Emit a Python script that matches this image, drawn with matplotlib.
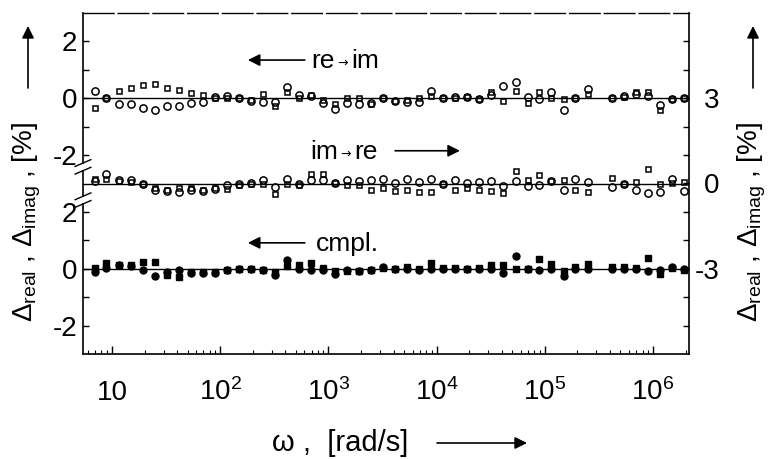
import matplotlib
matplotlib.use('Agg')
import matplotlib.pyplot as plt
import matplotlib.transforms as mtransforms
from matplotlib.ticker import FixedLocator, NullFormatter
import numpy as np

plt.rcParams['font.family'] = ['Liberation Sans', 'DejaVu Sans']
plt.rcParams['mathtext.fontset'] = 'custom'
plt.rcParams['mathtext.rm'] = 'Liberation Sans'
plt.rcParams['mathtext.it'] = 'Liberation Sans:italic'
plt.rcParams['mathtext.bf'] = 'Liberation Sans:bold'

# measurement frequencies [rad/s], 9 per decade (one point missing near 3e5)
omega = [6.9, 8.9, 11.5, 14.9, 19.2, 24.9, 32.1, 41.5, 53.6,
         69, 89, 115, 149, 192, 249, 321, 415, 536,
         690, 893, 1150, 1490, 1920, 2490, 3210, 4150, 5360,
         6920, 8930, 11500, 14900, 19200, 24900, 32100, 41500, 53600,
         69200, 89300, 115000, 149000, 192000, 249000, 415000, 536000,
         692000, 893000, 1150000, 1490000, 1920000]

# deviations in %, real part (circles) and imaginary part (squares)
re_im_real = [0.26, 0.0, -0.19, -0.19, -0.35, -0.42, -0.27, -0.27, -0.15,
              -0.12, 0.05, 0.07, 0.02, -0.09, -0.12, -0.12, 0.40, 0.12,
              0.08, -0.15, -0.38, -0.15, -0.19, -0.15, 0.02, -0.10, -0.12,
              -0.14, 0.26, 0.0, 0.05, 0.05, -0.02, 0.12, 0.44, 0.58,
              0.05, -0.02, 0.21, -0.41, 0.0, 0.33, 0.02, 0.09,
              0.14, 0.09, -0.23, -0.02, 0.02]
re_im_imag = [-0.33, 0.0, 0.26, 0.35, 0.47, 0.51, 0.37, 0.28, 0.20,
              0.12, 0.02, 0.0, 0.0, -0.07, 0.16, -0.27, 0.23, 0.02,
              0.12, -0.07, -0.19, 0.02, 0.0, -0.19, 0.02, -0.08, -0.06,
              0.02, 0.09, 0.0, 0.02, 0.05, -0.02, 0.21, -0.09, 0.26,
              -0.17, 0.21, 0.02, -0.02, 0.0, 0.14, 0.02, 0.06,
              0.23, 0.21, -0.41, -0.02, 0.0]

im_re_real = [0.10, 0.35, 0.12, 0.12, 0.0, -0.23, -0.26, -0.29, -0.23,
              -0.26, -0.21, -0.06, -0.02, 0.02, 0.12, -0.14, 0.17, 0.0,
              0.14, 0.14, 0.02, 0.14, 0.09, 0.14, 0.17, 0.03, 0.17,
              0.06, 0.15, -0.03, 0.12, 0.03, 0.06, 0.08, -0.08, 0.08,
              -0.08, -0.06, 0.08, -0.23, 0.17, 0.06, -0.12, 0.0,
              -0.23, -0.35, -0.31, 0.17, -0.27]
im_re_imag = [0.17, 0.17, 0.09, 0.06, 0.0, -0.17, -0.23, -0.17, -0.17,
              -0.23, -0.17, -0.21, -0.06, 0.0, 0.0, -0.37, 0.0, -0.06,
              0.35, 0.33, 0.02, -0.06, -0.06, -0.23, -0.17, -0.27, -0.23,
              -0.31, -0.29, -0.03, -0.23, -0.17, -0.23, -0.27, -0.35, 0.43,
              0.12, 0.29, 0.08, 0.12, -0.23, -0.29, 0.20, 0.0,
              0.06, 0.52, 0.0, 0.03, 0.06]

cmpl_real = [-0.12, 0.03, 0.12, 0.08, -0.06, -0.27, -0.12, -0.06, -0.15,
             -0.15, -0.15, -0.06, 0.0, 0.0, -0.03, -0.23, 0.31, 0.0,
             -0.03, -0.06, -0.17, -0.06, -0.08, -0.03, 0.06, -0.02, 0.0,
             -0.05, -0.02, 0.0, -0.02, 0.0, 0.0, -0.02, -0.16, 0.44,
             0.0, -0.05, 0.0, -0.26, 0.0, 0.0, 0.0, 0.0,
             0.0, -0.08, -0.05, 0.07, 0.0]
cmpl_imag = [0.03, 0.20, 0.12, 0.12, 0.23, 0.23, -0.23, -0.29, -0.12,
             -0.12, -0.12, -0.03, 0.0, 0.0, -0.03, -0.12, 0.08, 0.12,
             0.20, 0.03, -0.08, -0.08, -0.08, -0.03, 0.03, 0.0, 0.07,
             0.0, 0.19, 0.03, 0.03, 0.0, 0.03, 0.12, 0.12, 0.0,
             0.0, 0.33, 0.15, -0.08, 0.07, 0.15, 0.07, 0.07,
             0.03, 0.38, -0.20, 0.03, -0.05]

decades = [1e1, 1e2, 1e3, 1e4, 1e5, 1e6]
decade_labels = ['10', '$10^2$', '$10^3$', '$10^4$', '$10^5$', '$10^6$']

W, H = 773, 459
fig = plt.figure(figsize=(W / 100, H / 100), dpi=100)
ax = fig.add_axes([83 / W, 1 - 354 / H, 606 / W, 341 / H])
ax.set_xscale('log')
ax.set_xlim(5.4, 2.15e6)
ax.set_ylim(-6, 6)

# each comparison is shifted onto its own baseline
for off in (3, 0, -3):
    ax.axhline(off, color='black', lw=1.0, zorder=1)

open_kw = dict(ls='none', mfc='none', mec='black', mew=1.1, zorder=3)
ax.plot(omega, np.array(re_im_real) + 3, marker='o', ms=5.2, **open_kw)
ax.plot(omega, np.array(re_im_imag) + 3, marker='s', ms=3.6, **open_kw)
ax.plot(omega, np.array(im_re_real), marker='o', ms=5.2, **open_kw)
ax.plot(omega, np.array(im_re_imag), marker='s', ms=3.6, **open_kw)
ax.plot(omega, np.array(cmpl_real) - 3, 'o', ms=5.0, color='black', zorder=3)
ax.plot(omega, np.array(cmpl_imag) - 3, 's', ms=3.8, color='black', zorder=3)

# x axis
ax.set_xticks(decades)
ax.set_xticklabels([])
ax.xaxis.set_minor_formatter(NullFormatter())
ax.tick_params(axis='x', which='major', direction='in', length=6, width=1)
ax.tick_params(axis='x', which='minor', direction='in', length=3, width=0.8)
bt = mtransforms.blended_transform_factory(ax.transData, ax.transAxes)
for d, lab in zip(decades, decade_labels):
    ax.text(d, -0.135, lab, transform=bt, ha='center', va='baseline', fontsize=20)

# left axis: two scales joined by a break
ax.set_yticks([5, 3, 1, -1, -3, -5])
ax.set_yticklabels(['2', '0', '-2', '2', '0', '-2'], fontsize=20)
ax.yaxis.set_minor_locator(FixedLocator([4, 2, -2, -4]))
ax.tick_params(axis='y', which='both', direction='in', length=4, width=1, pad=4)

ax.spines['left'].set_visible(False)
ax.spines['right'].set_visible(False)
ax.spines['bottom'].set_linewidth(1.2)
ax.spines['top'].set_linewidth(1.0)
ax.spines['top'].set_linestyle((0, (22, 3)))
lt = mtransforms.blended_transform_factory(ax.transAxes, ax.transData)
for y0, y1 in [(6, 0.72), (0.45, -0.45), (-0.72, -6)]:
    ax.plot([0, 0], [y0, y1], color='black', lw=1.2, transform=lt, clip_on=False)
for yb in (0.72, 0.45, -0.45, -0.72):
    ax.plot([-0.013, 0.013], [yb - 0.12, yb + 0.12], color='black', lw=1.0,
            transform=lt, clip_on=False)

# right axis: one continuous scale
ax2 = ax.twinx()
ax2.set_ylim(-6, 6)
ax2.set_yticks([3, 0, -3])
ax2.set_yticklabels(['3', '0', '-3'], fontsize=20)
ax2.yaxis.set_minor_locator(FixedLocator([5, 4, 2, 1, -1, -2, -4, -5]))
ax2.tick_params(axis='y', which='both', direction='in', length=4, width=1, pad=22)
for lab in ax2.get_yticklabels():
    lab.set_horizontalalignment('right')
for s in ('left', 'top', 'bottom'):
    ax2.spines[s].set_visible(False)
ax2.spines['right'].set_linewidth(1.2)


def arrow_label(x, y, left, right):
    """Two words joined by a small arrow centred at (x, y) in axes fraction."""
    ax.text(x - 0.013, y, left, transform=ax.transAxes, ha='right', va='center', fontsize=19)
    ax.text(x, y - 0.006, '→', transform=ax.transAxes, ha='center', va='center',
            fontsize=9, family=['DejaVu Sans'])
    ax.text(x + 0.013, y, right, transform=ax.transAxes, ha='left', va='center', fontsize=19)


# annotations with direction arrows
arrow = dict(arrowstyle='-|>', color='black', lw=1.2, mutation_scale=18,
             shrinkA=0, shrinkB=0)
arrow_label(0.429, 0.86, 're', 'im')
ax.annotate('', xy=(0.272, 0.862), xytext=(0.366, 0.862), xycoords='axes fraction', arrowprops=arrow)
arrow_label(0.434, 0.593, 'im', 're')
ax.annotate('', xy=(0.622, 0.596), xytext=(0.515, 0.596), xycoords='axes fraction', arrowprops=arrow)
ax.text(0.437, 0.322, 'cmpl.', transform=ax.transAxes, ha='center', va='center', fontsize=19)
ax.annotate('', xy=(0.272, 0.326), xytext=(0.366, 0.326), xycoords='axes fraction', arrowprops=arrow)

# axis titles
fig.text(340 / W, 1 - 443 / H, 'ω ,  [rad/s]', ha='center', va='center', fontsize=21)
fig.add_artist(matplotlib.patches.FancyArrowPatch(
    (437 / W, 1 - 443 / H), (527 / W, 1 - 443 / H), transform=fig.transFigure, **arrow))

ylab = r'$\Delta_{\mathrm{real}}$ , $\Delta_{\mathrm{imag}}$ , [%]'
fig.text(27 / W, 1 - 222 / H, ylab, rotation=90, ha='center', va='center', fontsize=20)
fig.text(752 / W, 1 - 222 / H, ylab, rotation=90, ha='center', va='center', fontsize=20)
for xp in (28, 753):
    fig.add_artist(matplotlib.patches.FancyArrowPatch(
        (xp / W, 1 - 88 / H), (xp / W, 1 - 26 / H), transform=fig.transFigure, **arrow))

fig.savefig('out.png', dpi=100)
